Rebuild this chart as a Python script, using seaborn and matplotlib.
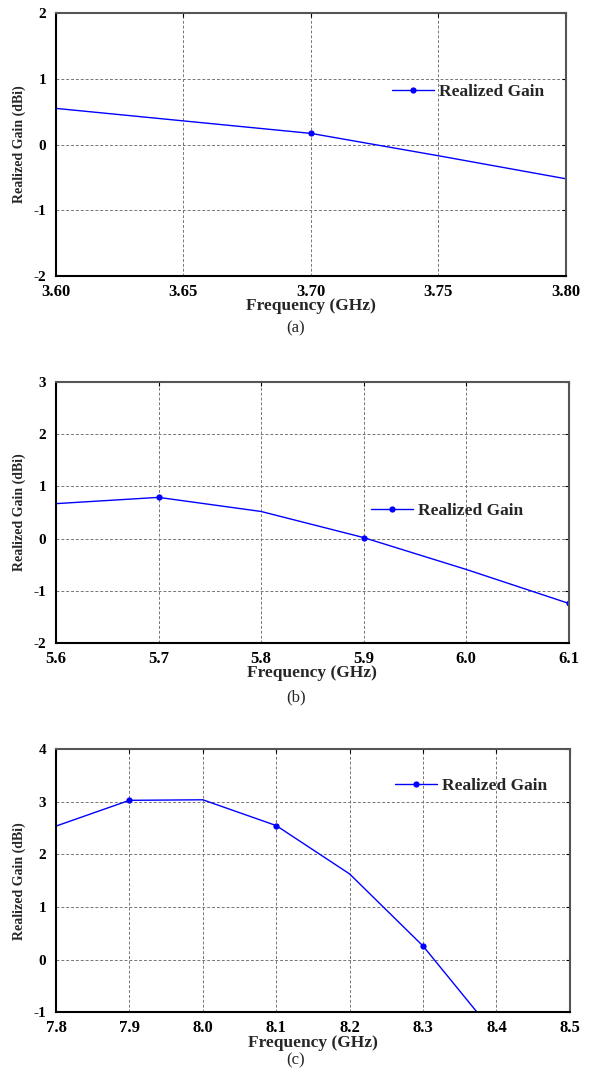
import matplotlib
matplotlib.use("Agg")
import matplotlib.pyplot as plt
import seaborn as sns

# (a) 3.6 GHz band
freq_a = [3.60, 3.65, 3.70, 3.75, 3.80]
gain_a = [0.55, 0.36, 0.17, -0.17, -0.52]
ticks_a = [3.60, 3.65, 3.70, 3.75, 3.80]
tick_labels_a = ["3.60", "3.65", "3.70", "3.75", "3.80"]

# (b) 5.8 GHz band
freq_b = [5.6, 5.7, 5.8, 5.9, 6.0, 6.1]
gain_b = [0.67, 0.79, 0.52, 0.02, -0.59, -1.24]
ticks_b = [5.6, 5.7, 5.8, 5.9, 6.0, 6.1]
tick_labels_b = ["5.6", "5.7", "5.8", "5.9", "6.0", "6.1"]

# (c) 8 GHz band
freq_c = [7.8, 7.9, 8.0, 8.1, 8.2, 8.3, 8.4, 8.5]
gain_c = [2.54, 3.03, 3.04, 2.55, 1.63, 0.26, -1.45, -3.0]
ticks_c = [7.8, 7.9, 8.0, 8.1, 8.2, 8.3, 8.4, 8.5]
tick_labels_c = ["7.8", "7.9", "8.0", "8.1", "8.2", "8.3", "8.4", "8.5"]

sns.set_theme(style="white")
plt.rcParams["font.family"] = ["Liberation Serif", "DejaVu Serif"]

fig = plt.figure(figsize=(5.92, 10.8), dpi=100)

panels = [
    dict(x=freq_a, y=gain_a, ticks=ticks_a, labels=tick_labels_a, ylim=(-2, 2),
         yticks=[-2, -1, 0, 1, 2], rect=[0.0946, 0.7444, 0.861, 0.2435],
         markevery=[2], leg=(0.659, 0.70), cap="(a)", cap_y=0.696),
    dict(x=freq_b, y=gain_b, ticks=ticks_b, labels=tick_labels_b, ylim=(-2, 3),
         yticks=[-2, -1, 0, 1, 2, 3], rect=[0.0946, 0.4046, 0.866, 0.2417],
         markevery=(1, 2), leg=(0.615, 0.506), cap="(b)", cap_y=0.354),
    dict(x=freq_c, y=gain_c, ticks=ticks_c, labels=tick_labels_c, ylim=(-1, 4),
         yticks=[-1, 0, 1, 2, 3, 4], rect=[0.0946, 0.0627, 0.868, 0.2435],
         markevery=(1, 2), leg=(0.66, 0.862), cap="(c)", cap_y=0.018),
]

for p in panels:
    ax = fig.add_axes(p["rect"])
    sns.lineplot(x=p["x"], y=p["y"], ax=ax, color="#0000ff", linewidth=1.0,
                 marker="o", markersize=4.5, markeredgewidth=0,
                 markevery=p["markevery"], label="Realized Gain", sort=False)
    ax.set_xlim(p["ticks"][0], p["ticks"][-1])
    ax.set_ylim(*p["ylim"])
    ax.set_xticks(p["ticks"])
    ax.set_xticklabels(p["labels"])
    ax.set_yticks(p["yticks"])
    ax.set_yticklabels([str(v) for v in p["yticks"]])
    ax.grid(True, linestyle=(0, (3, 2)), linewidth=0.7, color="#777777")
    ax.tick_params(direction="in", length=3, width=0.8, top=True, right=True,
                   colors="black")
    ax.tick_params(axis="y", pad=7, labelsize=11)
    ax.tick_params(axis="x", pad=5.5, labelsize=12)
    for lab in ax.get_xticklabels() + ax.get_yticklabels():
        lab.set_fontweight("bold")
    for side in ["left", "bottom"]:
        ax.spines[side].set_color("black")
        ax.spines[side].set_linewidth(1.5)
    for side in ["top", "right"]:
        ax.spines[side].set_color("#555555")
        ax.spines[side].set_linewidth(1.5)
    ax.set_xlabel("Frequency (GHz)", fontsize=12.5, fontweight="bold", labelpad=-1)
    ax.set_ylabel("Realized Gain (dBi)", fontsize=10, fontweight="bold")
    ax.yaxis.set_label_coords(-0.058, 0.5)
    leg = ax.legend(loc="center left", bbox_to_anchor=p["leg"], frameon=False,
                    borderpad=0, borderaxespad=0, handlelength=2.4,
                    handletextpad=0.3, prop=dict(size=12.5, weight="bold"))
    fig.text(0.5, p["cap_y"], p["cap"], ha="center", va="center", fontsize=12)

fig.savefig("out.png", dpi=100)
